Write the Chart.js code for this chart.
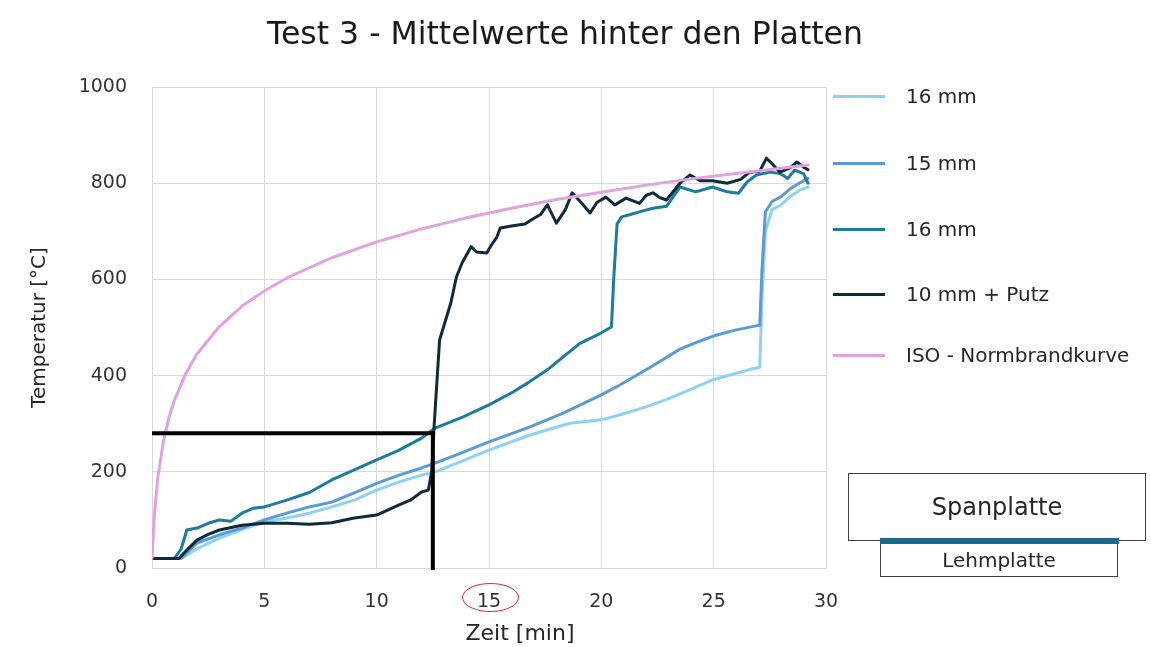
<!DOCTYPE html>
<html><head><meta charset="utf-8">
<script src="https://cdn.jsdelivr.net/npm/chart.js@4/dist/chart.umd.min.js"></script>
<style>
body{margin:0;background:#fff;}
#wrap{position:relative;width:1151px;height:647px;font-family:'DejaVu Sans',sans-serif;color:#262626;overflow:hidden;}
canvas{position:absolute;left:0;top:0;}
.abs{position:absolute;white-space:nowrap;}
</style></head><body>
<div id="wrap">
<canvas id="c" width="1151" height="647"></canvas>
<div class="abs" id="title" style="left:0;top:14px;width:1130px;text-align:center;font-size:31.5px;line-height:38px;color:#1a1a1a;">Test 3 - Mittelwerte hinter den Platten</div>
<div class="abs" id="xtitle" style="left:420px;top:620px;width:200px;text-align:center;font-size:22px;line-height:26px;">Zeit [min]</div>
<div class="abs" id="ring" style="left:462px;top:583px;width:55px;height:27px;border:1.5px solid #d63b3b;border-radius:50%;"></div>
<div id="legend"></div>
<div class="abs" style="left:848px;top:473px;width:296px;height:66px;border:1.5px solid #404040;text-align:center;font-size:24px;line-height:66px;">Spanplatte</div>
<div class="abs" style="left:880px;top:541px;width:236px;height:34px;border:1.5px solid #404040;text-align:center;font-size:20px;line-height:36px;">Lehmplatte</div>
<div class="abs" style="left:880px;top:538px;width:239px;height:6px;background:#1b6a88;"></div>
</div>
<script>
// ---- data ----
const seriesNames = ['16 mm', '15 mm', '16 mm', '10 mm + Putz', 'ISO - Normbrandkurve'];
const seriesColors = ['#8ed2f0', '#5b9bd5', '#1d7b9e', '#0f2a3a', '#dfa2e2'];
const legendY = [96, 163, 229, 294, 355];

const xTicks = [0, 5, 10, 15, 20, 25, 30];
const yTicks = [0, 200, 400, 600, 800, 1000];

const lbT = [0, 1.3, 2, 3, 4, 5, 6, 7, 8, 9, 10, 11, 12, 12.6, 13.8, 15, 16.8, 18.6, 20, 20.8, 22, 23, 24, 25, 26, 27.05, 27.15, 27.3, 27.6, 28, 28.4, 28.8, 29.2];
const lbV = [20, 20, 40, 62, 80, 96, 104, 114, 127, 141, 162, 179, 193, 200, 222, 245, 276, 301, 308, 318, 335, 352, 372, 392, 405, 418, 560, 700, 745, 755, 772, 785, 792];

const mbT = [0, 1.3, 2, 3, 4, 5, 6, 7, 8, 9, 10, 11, 12, 12.6, 13.8, 15, 16.8, 18.3, 20, 20.8, 22.2, 23.5, 24.4, 25.1, 26, 27.05, 27.15, 27.3, 27.6, 28, 28.4, 28.8, 29.2];
const mbV = [20, 20, 52, 69, 83, 100, 114, 127, 137, 156, 176, 193, 208, 218, 240, 262, 293, 322, 360, 380, 418, 455, 472, 484, 495, 505, 620, 740, 762, 772, 788, 800, 810];

const tlT = [0, 1.0, 1.3, 1.55, 2, 2.5, 3, 3.5, 4, 4.5, 5, 6, 7, 8, 9, 10, 11, 12, 12.6, 13.85, 15, 16.07, 16.8, 17.6, 18.3, 19.05, 19.8, 20.45, 20.55, 20.7, 20.9, 21.3, 21.8, 22.3, 22.9, 23.5, 24.2, 24.95, 25.6, 26.1, 26.5, 26.9, 27.5, 27.95, 28.3, 28.6, 29.0, 29.2];
const tlV = [20, 20, 40, 79, 83, 93, 100, 97, 114, 124, 127, 141, 157, 183, 204, 225, 245, 270, 291, 314, 339, 366, 387, 412, 439, 467, 484, 501, 600, 715, 730, 735, 742, 748, 752, 792, 782, 792, 782, 779, 803, 817, 823, 820, 810, 827, 820, 800];

const bkT = [0, 1.2, 1.5, 2, 2.5, 3, 4, 5, 6, 7, 8, 9, 10, 11, 11.5, 12, 12.3, 12.45, 12.55, 12.8, 13.3, 13.55, 13.8, 14.2, 14.45, 14.9, 15.1, 15.35, 15.5, 16.0, 16.6, 17.0, 17.3, 17.6, 18.0, 18.4, 18.7, 19.1, 19.5, 19.8, 20.2, 20.6, 21.1, 21.7, 22.0, 22.3, 22.6, 22.9, 23.5, 23.95, 24.4, 24.95, 25.6, 26.2, 26.6, 27.05, 27.35, 27.65, 27.95, 28.4, 28.7, 29.05, 29.2];
const bkV = [20, 20, 35, 58, 70, 79, 89, 93, 93, 91, 94, 104, 110, 131, 141, 158, 162, 200, 290, 474, 551, 605, 634, 668, 657, 655, 671, 688, 707, 711, 715, 727, 735, 755, 717, 745, 780, 760, 738, 760, 771, 755, 769, 758, 775, 780, 770, 765, 800, 817, 805, 805, 800, 808, 823, 825, 852, 838, 823, 832, 844, 832, 828];

const isoT = [0, 0.1, 0.25, 0.5, 0.75, 1, 1.5, 2, 3, 4, 5, 6, 8, 10, 12, 14, 16, 18, 20, 22, 24, 26, 28, 29.2];
const isoV = [20, 108, 185, 261, 312, 349, 404, 445, 502, 544, 576, 603, 645, 678, 705, 728, 748, 766, 781, 796, 809, 820, 831, 838];

const refT = [0, 12.5, 12.5];
const refV = [280, 280, -4];

// ---- build ----
const pts = (t, v) => t.map((x, i) => ({x: x, y: v[i]}));
const series = [[lbT, lbV], [mbT, mbV], [tlT, tlV], [bkT, bkV], [isoT, isoV]];
const orders = [6, 5, 4, 3, 2];

const datasets = series.map((s, i) => ({
  label: seriesNames[i],
  data: pts(s[0], s[1]),
  borderColor: seriesColors[i],
  backgroundColor: seriesColors[i],
  borderWidth: 3,
  order: orders[i],
  pointRadius: 0,
  fill: false
}));
datasets.push({
  label: 'ref',
  data: pts(refT, refV),
  borderColor: '#000000',
  borderWidth: 4,
  order: 1,
  pointRadius: 0,
  clip: false,
  borderJoinStyle: 'miter',
  borderCapStyle: 'butt'
});

Chart.defaults.font.family = "'DejaVu Sans', sans-serif";
Chart.defaults.color = '#333333';

new Chart(document.getElementById('c'), {
  type: 'line',
  data: {datasets: datasets},
  options: {
    responsive: false,
    animation: false,
    layout: {padding: {left: 0, top: 87, right: 325, bottom: 0}},
    plugins: {legend: {display: false}, title: {display: false}, tooltip: {enabled: false}},
    elements: {line: {tension: 0, borderJoinStyle: 'round', borderCapStyle: 'round'}},
    scales: {
      x: {
        type: 'linear', min: xTicks[0], max: xTicks[xTicks.length - 1],
        afterBuildTicks: (s) => { s.ticks = xTicks.map(v => ({value: v})); },
        ticks: {padding: 23, color: '#333333', font: {size: 19}, callback: (v) => String(v)},
        grid: {color: '#d9d9d9', drawTicks: false, lineWidth: 1},
        border: {color: '#d9d9d9'},
        afterFit: (s) => { s.height = 79; }
      },
      y: {
        type: 'linear', min: yTicks[0], max: yTicks[yTicks.length - 1],
        afterBuildTicks: (s) => { s.ticks = yTicks.map(v => ({value: v})); },
        ticks: {padding: 25, color: '#333333', font: {size: 19}, callback: (v) => String(v)},
        grid: {color: '#d9d9d9', drawTicks: false, lineWidth: 1},
        border: {color: '#d9d9d9'},
        title: {display: true, text: 'Temperatur [°C]', color: '#262626', font: {size: 20}, padding: {top: 28, bottom: 0}},
        afterFit: (s) => { s.width = 152; }
      }
    }
  }
});

// HTML legend from the series arrays
const lg = document.getElementById('legend');
seriesNames.forEach((n, i) => {
  const cy = legendY[i];
  const line = document.createElement('div');
  line.className = 'abs';
  line.style.cssText = `left:833px;top:${cy - 1.5}px;width:52px;height:3px;background:${seriesColors[i]};`;
  const tx = document.createElement('div');
  tx.className = 'abs';
  tx.style.cssText = `left:906px;top:${cy - 12}px;font-size:20px;line-height:24px;color:#262626;`;
  tx.textContent = n;
  lg.appendChild(line); lg.appendChild(tx);
});
</script>
</body></html>
